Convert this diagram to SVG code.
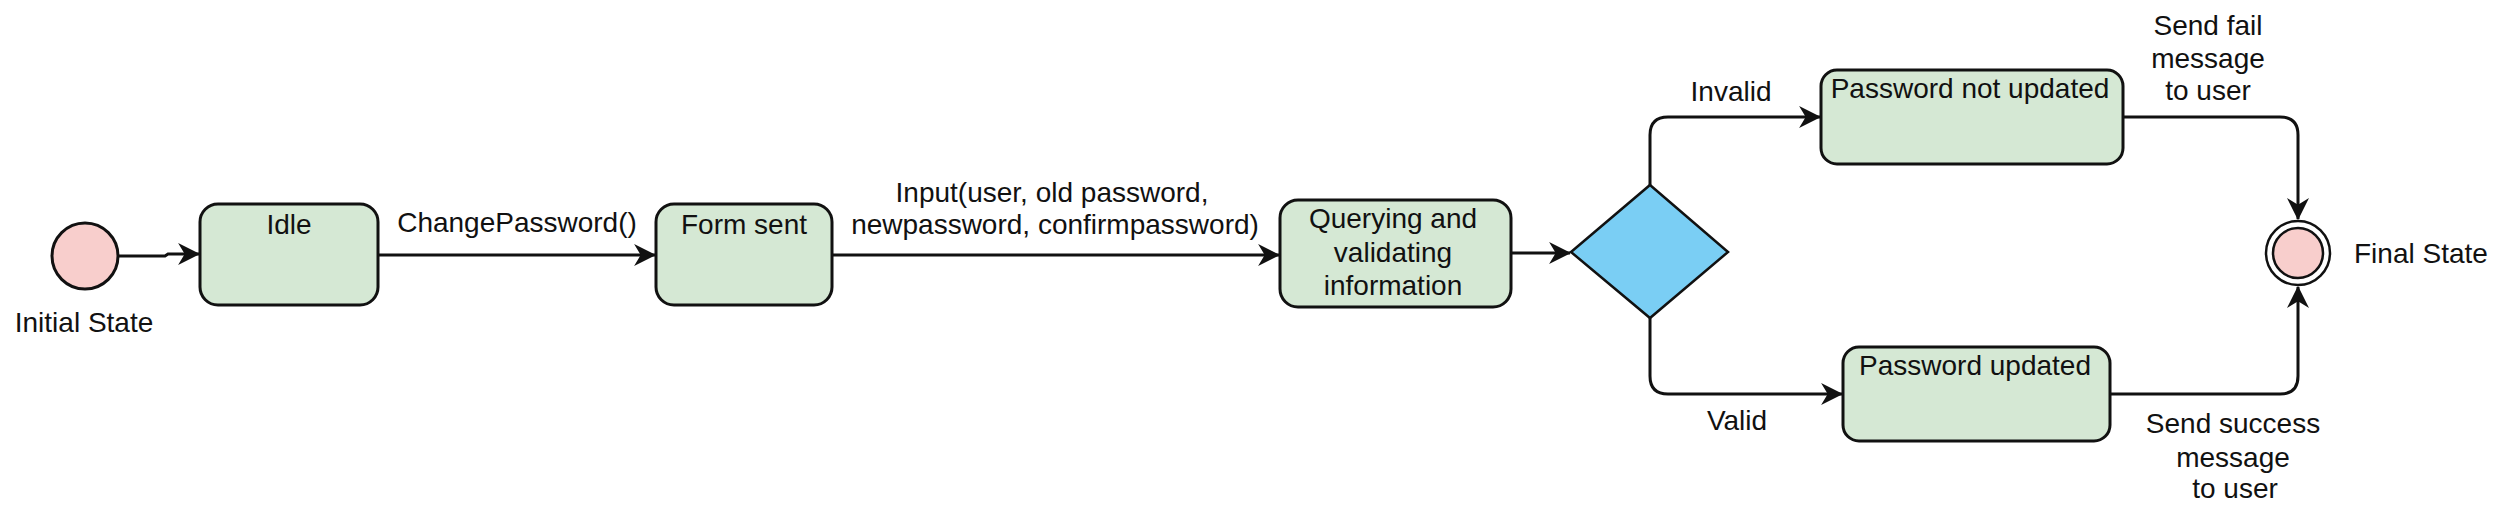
<svg xmlns="http://www.w3.org/2000/svg" width="2500" height="526" viewBox="0 0 2500 526">
<style>
.box{fill:#d5e8d4;stroke:#111;stroke-width:3}
.edge{fill:none;stroke:#111;stroke-width:3}
.t{font-family:"Liberation Sans",Arial,sans-serif;font-size:28px;fill:#111;text-anchor:middle}
</style>
<defs>
<marker id="arr" markerUnits="userSpaceOnUse" markerWidth="22" markerHeight="22" viewBox="0 0 20 20" refX="19" refY="10" orient="auto">
<path d="M0,0 L20,10 L0,20 L6,10 Z" fill="#111"/>
</marker>
</defs>
<rect width="2500" height="526" fill="#fff"/>
<g id="connectors">
<path class="edge" d="M118,256 L165,256 L168,254 L199,254" marker-end="url(#arr)"/>
<path class="edge" d="M378,255 L655,255" marker-end="url(#arr)"/>
<path class="edge" d="M832,255 L1279,255" marker-end="url(#arr)"/>
<path class="edge" d="M1511,253 L1570,253" marker-end="url(#arr)"/>
<path class="edge" d="M1650,185 L1650,135 Q1650,117 1668,117 L1820,117" marker-end="url(#arr)"/>
<path class="edge" d="M1650,318 L1650,376 Q1650,394 1668,394 L1842,394" marker-end="url(#arr)"/>
<path class="edge" d="M2123,117 L2280,117 Q2298,117 2298,135 L2298,219" marker-end="url(#arr)"/>
<path class="edge" d="M2110,394 L2280,394 Q2298,394 2298,376 L2298,287" marker-end="url(#arr)"/>
<text class="t" x="517" y="232">ChangePassword()</text>
<text class="t" x="1052" y="202">Input(user, old password,</text>
<text class="t" x="1055" y="234">newpassword, confirmpassword)</text>
<text class="t" x="1731" y="101">Invalid</text>
<text class="t" x="1737" y="430">Valid</text>
<text class="t" x="2208" y="35">Send fail</text>
<text class="t" x="2208" y="68">message</text>
<text class="t" x="2208" y="100">to user</text>
<text class="t" x="2233" y="433">Send success</text>
<text class="t" x="2233" y="467">message</text>
<text class="t" x="2235" y="498">to user</text>
</g>
<g id="initial">
<circle cx="85" cy="256" r="33" fill="#f8cecc" stroke="#111" stroke-width="3"/>
<text class="t" x="84" y="332">Initial State</text>
</g>
<g id="idle">
<rect class="box" x="200" y="204" width="178" height="101" rx="18"/>
<text class="t" x="289" y="234">Idle</text>
</g>
<g id="formsent">
<rect class="box" x="656" y="204" width="176" height="101" rx="18"/>
<text class="t" x="744" y="234">Form sent</text>
</g>
<g id="querying">
<rect class="box" x="1280" y="200" width="231" height="107" rx="18"/>
<text class="t" x="1393" y="228">Querying and</text>
<text class="t" x="1393" y="262">validating</text>
<text class="t" x="1393" y="295">information</text>
</g>
<g id="decision">
<polygon points="1650,185 1728,252 1650,318 1571,252" fill="#7acef4" stroke="#111" stroke-width="2.5"/>
</g>
<g id="notupdated">
<rect class="box" x="1821" y="70" width="302" height="94" rx="16"/>
<text class="t" x="1970" y="98">Password not updated</text>
</g>
<g id="updated">
<rect class="box" x="1843" y="347" width="267" height="94" rx="16"/>
<text class="t" x="1975" y="375">Password updated</text>
</g>
<g id="final">
<circle cx="2298" cy="253" r="32" fill="#fff" stroke="#111" stroke-width="2.5"/>
<circle cx="2298" cy="253" r="25" fill="#f8cecc" stroke="#111" stroke-width="2.5"/>
<text class="t" x="2354" y="263" style="text-anchor:start">Final State</text>
</g>
</svg>
